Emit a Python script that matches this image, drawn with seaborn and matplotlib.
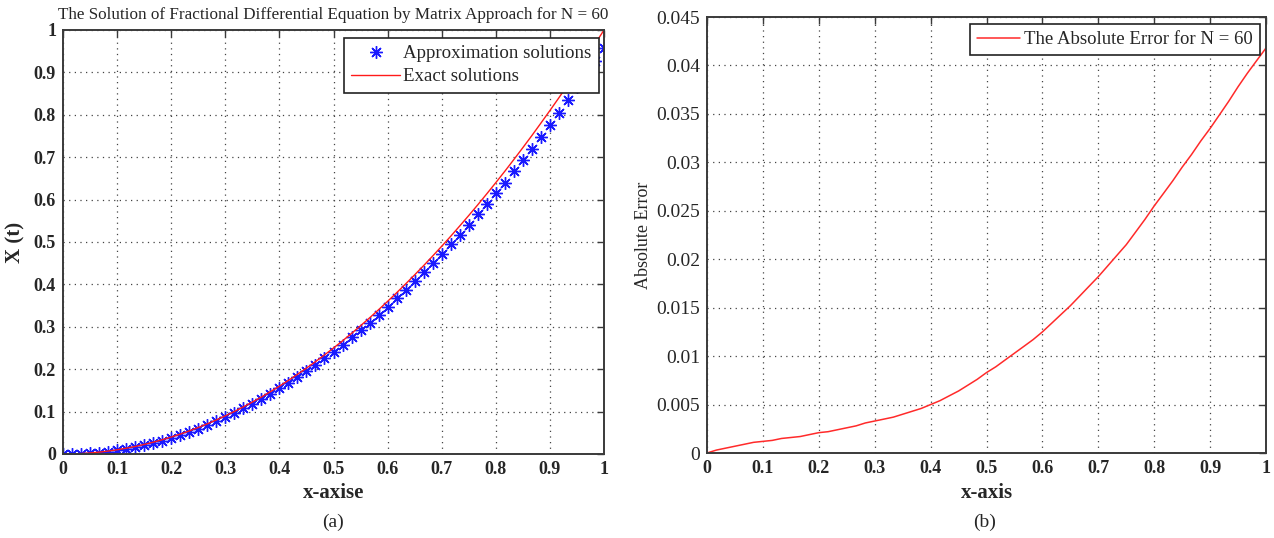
import matplotlib
matplotlib.use("Agg")
import matplotlib.pyplot as plt
import seaborn as sns
import pandas as pd
from matplotlib.ticker import FuncFormatter

# ---------------- data ----------------
t_values = [0.0, 0.0167, 0.0333, 0.05, 0.0667, 0.0833, 0.1, 0.1167, 0.1333, 0.15,
            0.1667, 0.1833, 0.2, 0.2167, 0.2333, 0.25, 0.2667, 0.2833, 0.3, 0.3167,
            0.3333, 0.35, 0.3667, 0.3833, 0.4, 0.4167, 0.4333, 0.45, 0.4667, 0.4833,
            0.5, 0.5167, 0.5333, 0.55, 0.5667, 0.5833, 0.6, 0.6167, 0.6333, 0.65,
            0.6667, 0.6833, 0.7, 0.7167, 0.7333, 0.75, 0.7667, 0.7833, 0.8, 0.8167,
            0.8333, 0.85, 0.8667, 0.8833, 0.9, 0.9167, 0.9333, 0.95, 0.9667, 0.9833, 1.0]

exact_values = [0.0, 0.0003, 0.0011, 0.0025, 0.0044, 0.0069, 0.01, 0.0136, 0.0178, 0.0225,
                0.0278, 0.0336, 0.04, 0.0469, 0.0544, 0.0625, 0.0711, 0.0803, 0.09, 0.1003,
                0.1111, 0.1225, 0.1344, 0.1469, 0.16, 0.1736, 0.1878, 0.2025, 0.2178, 0.2336,
                0.25, 0.2669, 0.2844, 0.3025, 0.3211, 0.3403, 0.36, 0.3803, 0.4011, 0.4225,
                0.4444, 0.4669, 0.49, 0.5136, 0.5378, 0.5625, 0.5878, 0.6136, 0.64, 0.6669,
                0.6944, 0.7225, 0.7511, 0.7803, 0.81, 0.8403, 0.8711, 0.9025, 0.9344, 0.9669, 1.0]

approx_values = [0.0, 0.0, 0.0006, 0.0018, 0.0035, 0.0058, 0.0088, 0.0123, 0.0163, 0.0209,
                 0.0261, 0.0317, 0.0379, 0.0447, 0.0520, 0.0599, 0.0683, 0.0772, 0.0867, 0.0968,
                 0.1074, 0.1185, 0.1301, 0.1423, 0.1550, 0.1682, 0.1819, 0.1961, 0.2108, 0.2260,
                 0.2417, 0.2580, 0.2748, 0.2922, 0.3101, 0.3286, 0.3475, 0.3669, 0.3868, 0.4073,
                 0.4282, 0.4497, 0.4718, 0.4943, 0.5174, 0.5410, 0.5650, 0.5895, 0.6145, 0.6401,
                 0.6663, 0.6930, 0.7203, 0.7481, 0.7765, 0.8054, 0.8348, 0.8647, 0.8952, 0.9264, 0.9582]

error_values = [0.0, 0.0003, 0.0005, 0.0007, 0.0009, 0.0011, 0.0012, 0.0013, 0.0015, 0.0016,
                0.0017, 0.0019, 0.0021, 0.0022, 0.0024, 0.0026, 0.0028, 0.0031, 0.0033, 0.0035,
                0.0037, 0.0040, 0.0043, 0.0046, 0.0050, 0.0054, 0.0059, 0.0064, 0.0070, 0.0076,
                0.0083, 0.0089, 0.0096, 0.0103, 0.0110, 0.0117, 0.0125, 0.0134, 0.0143, 0.0152,
                0.0162, 0.0172, 0.0182, 0.0193, 0.0204, 0.0215, 0.0228, 0.0241, 0.0255, 0.0268,
                0.0281, 0.0295, 0.0308, 0.0322, 0.0335, 0.0349, 0.0363, 0.0378, 0.0392, 0.0405, 0.0418]

x_ticks = [0, 0.1, 0.2, 0.3, 0.4, 0.5, 0.6, 0.7, 0.8, 0.9, 1]
left_yticks = [0, 0.1, 0.2, 0.3, 0.4, 0.5, 0.6, 0.7, 0.8, 0.9, 1]
right_yticks = [0, 0.005, 0.01, 0.015, 0.02, 0.025, 0.03, 0.035, 0.04, 0.045]

title_a = "The Solution of Fractional Differential Equation by Matrix Approach for N = 60"
label_approx = "Approximation solutions"
label_exact = "Exact solutions"
label_err = "The Absolute Error for N = 60"

df = pd.DataFrame({"t": t_values, "exact": exact_values,
                   "approx": approx_values, "err": error_values})

# ---------------- style ----------------
sns.set_style("white")
plt.rcParams["font.family"] = ["Liberation Serif", "DejaVu Serif"]

fig = plt.figure(figsize=(12.74, 5.38), dpi=100)
ax1 = fig.add_axes([63 / 1274, 1 - 454 / 538, (604 - 63) / 1274, (454 - 30) / 538])
ax2 = fig.add_axes([707 / 1274, 1 - 453 / 538, (1266 - 707) / 1274, (453 - 17) / 538])

fmt = FuncFormatter(lambda v, p: ("%g" % round(v, 4)))

def style_axes(ax, xbold, ybold, ysize):
    for s in ax.spines.values():
        s.set_visible(True)
        s.set_color("#3a3a3a")
        s.set_linewidth(1.4)
    ax.tick_params(direction="in", length=5, width=1.0, color="#3a3a3a",
                   top=True, right=True, labelsize=13, pad=5)
    ax.tick_params(axis="y", labelsize=ysize)
    ax.grid(True, linestyle=(0, (1, 3.5)), color="#444444", linewidth=0.9)
    ax.xaxis.set_major_formatter(fmt)
    ax.yaxis.set_major_formatter(fmt)
    for lab in ax.get_xticklabels():
        lab.set_fontweight("bold" if xbold else "normal")
    for lab in ax.get_yticklabels():
        lab.set_fontweight("bold" if ybold else "normal")

# ---------------- left panel ----------------
sns.lineplot(data=df, x="t", y="approx", ax=ax1, color="#1a1aff", linestyle="",
             marker=(8, 2, 0), markersize=9, markeredgewidth=1.0,
             markeredgecolor="#1a1aff", label=label_approx, sort=False)
sns.lineplot(data=df, x="t", y="exact", ax=ax1, color="#ff1a1a", linewidth=1.0,
             label=label_exact, sort=False)
ax1.set_xlim(0, 1)
ax1.set_ylim(0, 1)
ax1.set_xticks(x_ticks)
ax1.set_yticks(left_yticks)
style_axes(ax1, True, True, 13)
ax1.set_title(title_a, fontsize=12.3, pad=8)
ax1.set_xlabel("x-axise", fontsize=15, fontweight="bold", labelpad=4)
ax1.set_ylabel("X (t)", fontsize=15, fontweight="bold", labelpad=6)
leg1 = ax1.legend(loc="upper right", bbox_to_anchor=(0.99, 0.981), fontsize=13.6,
                  frameon=True, fancybox=False, edgecolor="#222222", framealpha=1,
                  borderpad=0.38, handlelength=2.6, handletextpad=0.15, labelspacing=0.3,
                  borderaxespad=0)
leg1.get_frame().set_linewidth(1.2)

# ---------------- right panel ----------------
sns.lineplot(data=df, x="t", y="err", ax=ax2, color="#ff2a2a", linewidth=1.1,
             label=label_err, sort=False)
ax2.set_xlim(0, 1)
ax2.set_ylim(0, 0.045)
ax2.set_xticks(x_ticks)
ax2.set_yticks(right_yticks)
style_axes(ax2, True, False, 14)
ax2.set_xlabel("x-axis", fontsize=15, fontweight="bold", labelpad=4)
ax2.set_ylabel("Absolute Error", fontsize=13, labelpad=3)
leg2 = ax2.legend(loc="upper right", bbox_to_anchor=(0.989, 0.984), fontsize=13.5,
                  frameon=True, fancybox=False, edgecolor="#222222", framealpha=1,
                  borderpad=0.38, handlelength=2.3, handletextpad=0.2,
                  borderaxespad=0)
leg2.get_frame().set_linewidth(1.2)

# panel captions
fig.text(333 / 1274, 1 - 522 / 538, "(a)", ha="center", va="center", fontsize=14)
fig.text(985 / 1274, 1 - 522 / 538, "(b)", ha="center", va="center", fontsize=14)

fig.savefig("out.png", dpi=100)
